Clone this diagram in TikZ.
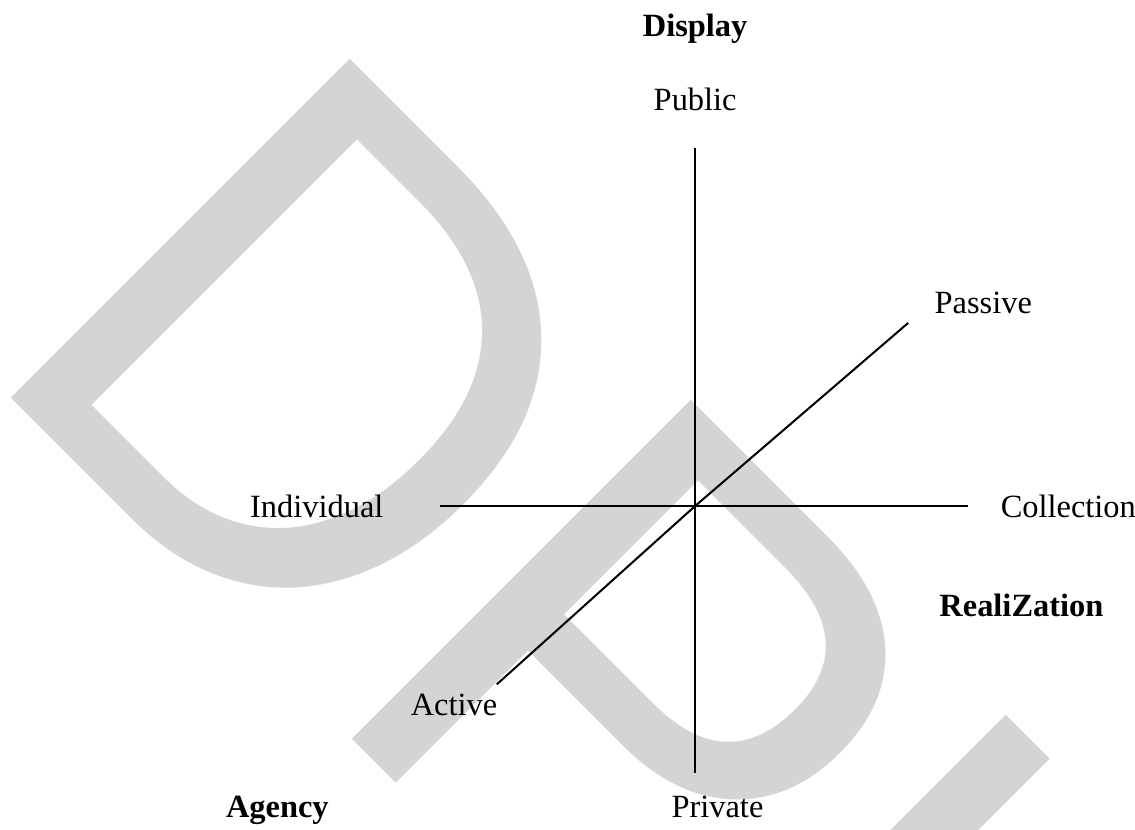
\documentclass[tikz,border=0pt]{standalone}
\usepackage{fontspec}
\setmainfont{Liberation Serif}
\newfontfamily\wmfont{Liberation Sans}
\usepackage{tikz}
\usetikzlibrary{positioning,calc}
\definecolor{wmGray}{HTML}{D4D4D4}

\begin{document}
\begin{tikzpicture}[
  lbl/.style={font=\fontsize{12}{14}\selectfont},
  hd/.style={font=\fontsize{12}{14}\selectfont\bfseries},
  axis/.style={line width=0.75pt, black},
  wm/.style={inner sep=0pt, text=wmGray, rotate=-45, yscale=1.044, anchor=base west, font=\wmfont\fontsize{247}{250}\selectfont}
]
  \useasboundingbox (0,0) rectangle (14.76,10.79);
  \begin{scope}
    \clip (0,0) rectangle (14.76,10.79);
    \node[wm] (wmark) at (-0.36,6.12) {DPL};
  \end{scope}

  \coordinate (o) at (9.04,4.21);
  \coordinate[above=4.66cm of o] (pubend);
  \coordinate[below=3.47cm of o] (privend);
  \coordinate[left=3.32cm of o] (indend);
  \coordinate[right=3.55cm of o] (colend);
  \coordinate[above right=2.38cm and 2.77cm of o] (pasend);
  \coordinate[below left=2.32cm and 2.58cm of o] (actend);

  \node[lbl, above=0.35cm of pubend] (public) {Public};
  \node[hd, above=0.34cm of public] (display) {Display};
  \node[lbl, below=0.18cm of privend, xshift=0.29cm] (private) {Private};
  \node[hd, base left=4.21cm of private] (agency) {Agency};
  \node[lbl, left=0.61cm of indend] (indiv) {Individual};
  \node[lbl, right=0.30cm of colend] (coll) {Collection};
  \node[hd, below=0.75cm of coll, xshift=-0.61cm] (real) {RealiZation};
  \node[lbl, above right=0cm and 0.22cm of pasend] (passive) {Passive};
  \node[lbl, below left=0cm of actend, xshift=0.13cm] (active) {Active};

  \draw[axis] (pubend) -- (privend);
  \draw[axis] (indend) -- (colend);
  \draw[axis] (actend) -- (o) -- (pasend);
\end{tikzpicture}
\end{document}
